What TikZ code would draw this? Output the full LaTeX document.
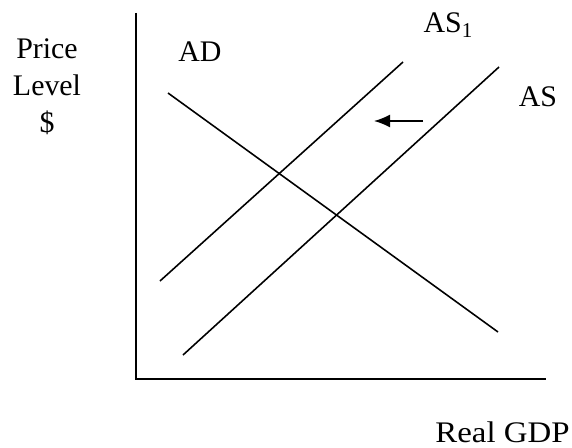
\documentclass[tikz,border=0pt]{standalone}
\usepackage{fontspec}
\setmainfont{Liberation Serif}
\usetikzlibrary{arrows.meta,positioning}

\tikzset{
  lbl/.style={font=\fontsize{17}{21}\selectfont, inner sep=0pt},
  axis/.style={line width=1.1pt},
  curve/.style={line width=0.9pt}
}

\begin{document}
\begin{tikzpicture}
\useasboundingbox (0,0) rectangle (11.44,8.94);
% axes
\coordinate (O) at (2.72,1.36);
\coordinate (ytop) at (2.72,8.68);
\coordinate (xend) at (10.92,1.36);
\draw[axis] (ytop) -- (O) -- (xend);
% curves
\coordinate (ad1) at (3.36,7.08);
\coordinate (ad2) at (9.96,2.30);
\coordinate (as1a) at (3.20,3.32);
\coordinate (as1b) at (8.06,7.70);
\coordinate (asa) at (3.66,1.84);
\coordinate (asb) at (9.98,7.60);
\draw[curve] (ad1) -- (ad2);
\draw[curve] (as1a) -- (as1b);
\draw[curve] (asa) -- (asb);
% shift of supply
\coordinate (shiftfrom) at (8.46,6.52);
\coordinate (shiftto) at (7.48,6.52);
\draw[curve,-{Latex[length=0.32cm,width=0.26cm]}] (shiftfrom) -- (shiftto);
% labels
\node[lbl, align=center] (plevel) at (0.94,7.21) {Price\\Level\\\$};
\node[lbl] (adlbl) at (4.00,7.90) {AD};
\node[lbl] (as1lbl) at (8.96,8.44) {AS\raisebox{-0.35ex}{\fontsize{12}{12}\selectfont 1}};
\node[lbl] (aslbl) at (10.76,7.00) {AS};
\node[lbl, anchor=east] (gdp) at (11.40,0.30) {\scalebox{1.1}[1]{Real GDP}};
\end{tikzpicture}
\end{document}
